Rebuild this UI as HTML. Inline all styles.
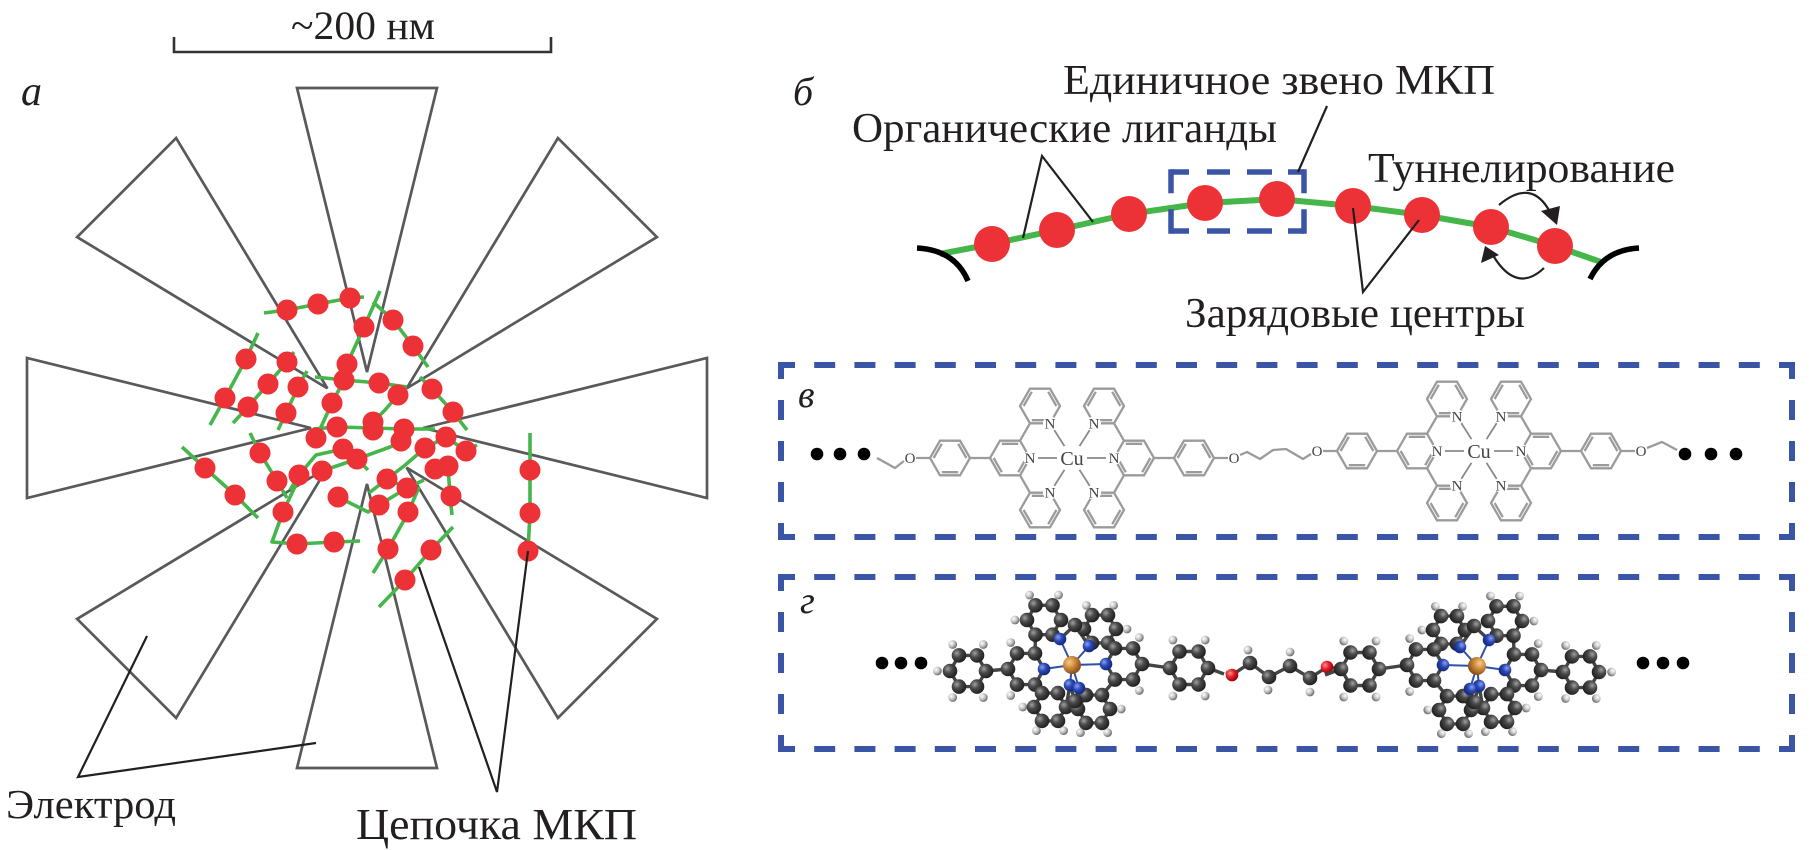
<!DOCTYPE html>
<html><head><meta charset="utf-8">
<style>
html,body{margin:0;padding:0;background:#fff;}
svg{display:block;}
text{font-family:"Liberation Serif","DejaVu Serif",serif;fill:#231f20;}
</style></head>
<body>
<svg width="1815" height="850" viewBox="0 0 1815 850" xmlns="http://www.w3.org/2000/svg">
<defs>
  <radialGradient id="gC" cx="35%" cy="35%" r="65%"><stop offset="0" stop-color="#a0a0a0"/><stop offset="0.45" stop-color="#4a4a4a"/><stop offset="1" stop-color="#222"/></radialGradient>
  <radialGradient id="gH" cx="35%" cy="35%" r="65%"><stop offset="0" stop-color="#fff"/><stop offset="0.55" stop-color="#c4c4c4"/><stop offset="1" stop-color="#707070"/></radialGradient>
  <radialGradient id="gN" cx="35%" cy="35%" r="65%"><stop offset="0" stop-color="#8aa0ee"/><stop offset="0.5" stop-color="#2a48b4"/><stop offset="1" stop-color="#152a80"/></radialGradient>
  <radialGradient id="gCu" cx="35%" cy="35%" r="65%"><stop offset="0" stop-color="#f8cc8a"/><stop offset="0.5" stop-color="#cc8a3c"/><stop offset="1" stop-color="#8a5218"/></radialGradient>
  <radialGradient id="gO" cx="35%" cy="35%" r="65%"><stop offset="0" stop-color="#ff9090"/><stop offset="0.5" stop-color="#e5202a"/><stop offset="1" stop-color="#a00010"/></radialGradient>

  <circle id="aC" r="7.3" fill="url(#gC)"/>
  <circle id="aH" r="4.4" fill="url(#gH)"/>
  <circle id="aN" r="6.3" fill="url(#gN)"/>
  <circle id="aO" r="6.3" fill="url(#gO)"/>

  <g id="rA">
    <polygon points="20,0 10,-17.32 -10,-17.32 -20,0 -10,17.32 10,17.32"/>
    <line x1="8.2" y1="-14.2" x2="-8.2" y2="-14.2"/>
    <line x1="-16.4" y1="0" x2="-8.2" y2="14.2"/>
    <line x1="8.2" y1="14.2" x2="16.4" y2="0"/>
  </g>
  <g id="rB">
    <polygon points="20,0 10,-17.32 -10,-17.32 -20,0 -10,17.32 10,17.32"/>
    <line x1="16.4" y1="0" x2="8.2" y2="-14.2"/>
    <line x1="-8.2" y1="-14.2" x2="-16.4" y2="0"/>
    <line x1="-8.2" y1="14.2" x2="8.2" y2="14.2"/>
  </g>
  <g id="lig" fill="none" stroke="#9b9b9b" stroke-width="2.3">
    <use href="#rA"/>
    <use href="#rB" x="30" y="-52"/>
    <use href="#rA" x="30" y="52"/>
    <use href="#rB" x="-60" y="0"/>
    <path d="M10,-17.32 L20,-34.64 M10,17.32 L20,34.64 M-20,0 H-40 M-80,0 H-94"/>
    <path d="M28,0 H47 M44.3,-27.9 L54.5,-11.8 M44.3,27.9 L54.5,11.8" stroke="#8a8a8a" stroke-width="1.8"/>
    <circle cx="20" cy="0" r="7" fill="#fff" stroke="none"/>
    <circle cx="40" cy="-34.64" r="7" fill="#fff" stroke="none"/>
    <circle cx="40" cy="34.64" r="7" fill="#fff" stroke="none"/>
  </g>

  <g id="cplx">
    <g fill="none" stroke="#444" stroke-width="3.4">
      <polygon points="-86,6 -95,-9.6 -113,-9.6 -122,6 -113,21.6 -95,21.6"/>
      <polygon points="-28,4 -37,-11.6 -55,-11.6 -64,4 -55,19.6 -37,19.6"/>
      <polygon points="-11,-45 -19.5,-59.7 -36.5,-59.7 -45,-45 -36.5,-30.3 -19.5,-30.3"/>
      <polygon points="44,-36 36,-49.9 20,-49.9 12,-36 20,-22.1 36,-22.1"/>
      <polygon points="70,-1 61,-16.6 43,-16.6 34,-1 43,14.6 61,14.6"/>
      <polygon points="136,3 126.5,-13.5 107.5,-13.5 98,3 107.5,19.5 126.5,19.5"/>
      <polygon points="-6,42 -14,28.1 -30,28.1 -38,42 -30,55.9 -14,55.9"/>
      <polygon points="38,44 30,30.1 14,30.1 6,44 14,57.9 30,57.9"/>
      <path d="M-86,6 L-64,4 M70,-1 L98,3 M136,3 L152,9 M-37,-11.6 L-36.5,-30.3 M43,-16.6 L36,-22.1 M-37,19.6 L-30,28.1 M43,14.6 L30,30.1 M-12,-26 L-19.5,-30.3 M17,-19 L20,-22.1 M-2,20 L-6,42 M7,23 L14,30.1 M3,-40 L-12,-26 M3,-40 L17,-19 M3,36 L-2,20 M3,36 L7,23"/>
      <path d="M0,0 L-12,-26 M0,0 L17,-19 M0,0 L-28,4 M0,0 L34,-1 M0,0 L-2,20 M0,0 L7,23" stroke="#3050a8" stroke-width="2"/>
    </g>
    <g>
      <use href="#aH" x="-88.7" y="-20.5"/><use href="#aH" x="-119.3" y="-20.5"/><use href="#aH" x="-134.6" y="6"/><use href="#aH" x="-119.3" y="32.5"/><use href="#aH" x="-88.7" y="32.5"/>
      <use href="#aH" x="-61.3" y="-22.5"/><use href="#aH" x="-61.3" y="30.5"/>
      <use href="#aH" x="-13.5" y="-70"/><use href="#aH" x="-42.5" y="-70"/><use href="#aH" x="-57" y="-45"/>
      <use href="#aH" x="55" y="-36"/><use href="#aH" x="41.6" y="-59.6"/><use href="#aH" x="14.4" y="-59.6"/>
      <use href="#aH" x="67.3" y="-27.5"/><use href="#aH" x="67.3" y="25.5"/>
      <use href="#aH" x="100.9" y="-25"/><use href="#aH" x="133.2" y="-25"/><use href="#aH" x="100.9" y="31"/><use href="#aH" x="133.2" y="31"/>
      <use href="#aH" x="-35.6" y="65.6"/><use href="#aH" x="-49.2" y="42"/><use href="#aH" x="-8.4" y="65.6"/>
      <use href="#aH" x="8.4" y="67.6"/><use href="#aH" x="35.6" y="67.6"/><use href="#aH" x="49.2" y="44"/>
    </g>
    <g>
      <use href="#aC" x="-86" y="6"/><use href="#aC" x="-95" y="-9.6"/><use href="#aC" x="-113" y="-9.6"/><use href="#aC" x="-122" y="6"/><use href="#aC" x="-113" y="21.6"/><use href="#aC" x="-95" y="21.6"/>
      <use href="#aC" x="-37" y="-11.6"/><use href="#aC" x="-55" y="-11.6"/><use href="#aC" x="-64" y="4"/><use href="#aC" x="-55" y="19.6"/><use href="#aC" x="-37" y="19.6"/>
      <use href="#aC" x="-11" y="-45"/><use href="#aC" x="-19.5" y="-59.7"/><use href="#aC" x="-36.5" y="-59.7"/><use href="#aC" x="-45" y="-45"/><use href="#aC" x="-36.5" y="-30.3"/><use href="#aC" x="-19.5" y="-30.3"/>
      <use href="#aC" x="44" y="-36"/><use href="#aC" x="36" y="-49.9"/><use href="#aC" x="20" y="-49.9"/><use href="#aC" x="12" y="-36"/><use href="#aC" x="20" y="-22.1"/><use href="#aC" x="36" y="-22.1"/>
      <use href="#aC" x="70" y="-1"/><use href="#aC" x="61" y="-16.6"/><use href="#aC" x="43" y="-16.6"/><use href="#aC" x="43" y="14.6"/><use href="#aC" x="61" y="14.6"/>
      <use href="#aC" x="136" y="3"/><use href="#aC" x="126.5" y="-13.5"/><use href="#aC" x="107.5" y="-13.5"/><use href="#aC" x="98" y="3"/><use href="#aC" x="107.5" y="19.5"/><use href="#aC" x="126.5" y="19.5"/>
      <use href="#aC" x="-6" y="42"/><use href="#aC" x="-14" y="28.1"/><use href="#aC" x="-30" y="28.1"/><use href="#aC" x="-38" y="42"/><use href="#aC" x="-30" y="55.9"/><use href="#aC" x="-14" y="55.9"/>
      <use href="#aC" x="38" y="44"/><use href="#aC" x="30" y="30.1"/><use href="#aC" x="14" y="30.1"/><use href="#aC" x="6" y="44"/><use href="#aC" x="14" y="57.9"/><use href="#aC" x="30" y="57.9"/>
      <use href="#aC" x="3" y="-40"/><use href="#aC" x="3" y="36"/>
    </g>
    <g>
      <use href="#aN" x="-12" y="-26"/><use href="#aN" x="17" y="-19"/><use href="#aN" x="-28" y="4"/><use href="#aN" x="34" y="-1"/><use href="#aN" x="-2" y="20"/><use href="#aN" x="7" y="23"/>
      <circle r="9" fill="url(#gCu)"/>
    </g>
  </g>
</defs>

<!-- ============ PANEL A ============ -->
<path d="M174,37 V52 H551 V37" fill="none" stroke="#333" stroke-width="2.6"/>
<text x="291" y="39" font-size="40" textLength="144" lengthAdjust="spacingAndGlyphs">~200 нм</text>
<text x="21" y="105" font-size="42" font-style="italic">а</text>

<g fill="none" stroke="#58595b" stroke-width="2.7" stroke-linejoin="miter">
  <polygon points="297,88 437,88 367,372"/>
  <polygon points="297,88 437,88 367,372" transform="rotate(45 367 428)"/>
  <polygon points="297,88 437,88 367,372" transform="rotate(90 367 428)"/>
  <polygon points="297,88 437,88 367,372" transform="rotate(135 367 428)"/>
  <polygon points="297,88 437,88 367,372" transform="rotate(180 367 428)"/>
  <polygon points="297,88 437,88 367,372" transform="rotate(225 367 428)"/>
  <polygon points="297,88 437,88 367,372" transform="rotate(270 367 428)"/>
  <polygon points="297,88 437,88 367,372" transform="rotate(315 367 428)"/>
</g>

<g fill="none" stroke="#45b649" stroke-width="3.6" stroke-linejoin="round" stroke-linecap="butt">
  <polyline points="264,313 287,310 318,304 350,298 364,297"/>
  <polyline points="380,291 364,327 347,364 344,380 332,403 316,438"/>
  <polyline points="373,302 393,320 413,346 428,367"/>
  <polyline points="258,333 246,359 225,398 210,425"/>
  <polyline points="294,352 287,362 268,384 248,407 233,423"/>
  <polyline points="307,371 298,387 286,413 278,430"/>
  <polyline points="315,377 344,380 379,383 407,387"/>
  <polyline points="420,377 432,389 453,412 467,430"/>
  <polyline points="398,395 385,410 373,422"/>
  <polyline points="313,429 337,427 373,428 404,429 435,429"/>
  <polyline points="250,433 260,453 277,481 287,498"/>
  <polyline points="182,447 205,468 235,495 258,518"/>
  <polyline points="322,471 357,459 390,447 404,440"/>
  <polyline points="420,440 425,448 446,437 466,451 477,445"/>
  <polyline points="369,493 387,479 407,488 424,480"/>
  <polyline points="387,479 404,466 425,448"/>
  <polyline points="448,466 450,496 452,515"/>
  <polyline points="290,490 299,475 316,455 343,449"/>
  <polyline points="299,478 283,512 272,542 297,544 334,542 360,541"/>
  <polyline points="373,573 388,549 408,513 419,487"/>
  <polyline points="379,607 405,580 431,550 453,527"/>
  <polyline points="530,433 530,470 530,513 528,551"/>
  <polyline points="338,497 368,512 379,505 407,488"/>
  <polyline points="343,449 357,459 368,470"/>
</g>

<g fill="#ec3137">
  <circle cx="287" cy="310" r="10.5"/><circle cx="318" cy="304" r="10.5"/><circle cx="350" cy="298" r="10.5"/>
  <circle cx="364" cy="327" r="10.5"/><circle cx="393" cy="320" r="10.5"/><circle cx="413" cy="346" r="10.5"/>
  <circle cx="246" cy="359" r="10.5"/><circle cx="287" cy="362" r="10.5"/><circle cx="347" cy="364" r="10.5"/>
  <circle cx="268" cy="384" r="10.5"/><circle cx="298" cy="387" r="10.5"/><circle cx="344" cy="380" r="10.5"/>
  <circle cx="379" cy="383" r="10.5"/><circle cx="398" cy="395" r="10.5"/><circle cx="432" cy="389" r="10.5"/>
  <circle cx="225" cy="398" r="10.5"/><circle cx="248" cy="407" r="10.5"/><circle cx="286" cy="413" r="10.5"/>
  <circle cx="332" cy="403" r="10.5"/><circle cx="453" cy="412" r="10.5"/><circle cx="337" cy="427" r="10.5"/>
  <circle cx="373" cy="422" r="10.5"/><circle cx="373" cy="430" r="10.5"/><circle cx="316" cy="438" r="10.5"/>
  <circle cx="404" cy="429" r="10.5"/><circle cx="401" cy="441" r="10.5"/><circle cx="446" cy="437" r="10.5"/>
  <circle cx="466" cy="451" r="10.5"/><circle cx="425" cy="448" r="10.5"/><circle cx="343" cy="449" r="10.5"/>
  <circle cx="357" cy="459" r="10.5"/><circle cx="260" cy="453" r="10.5"/><circle cx="205" cy="468" r="10.5"/>
  <circle cx="277" cy="481" r="10.5"/><circle cx="299" cy="475" r="10.5"/><circle cx="322" cy="471" r="10.5"/>
  <circle cx="435" cy="469" r="10.5"/><circle cx="448" cy="466" r="10.5"/><circle cx="387" cy="479" r="10.5"/>
  <circle cx="407" cy="488" r="10.5"/><circle cx="451" cy="496" r="10.5"/><circle cx="235" cy="495" r="10.5"/>
  <circle cx="338" cy="497" r="10.5"/><circle cx="379" cy="505" r="10.5"/><circle cx="408" cy="512" r="10.5"/>
  <circle cx="283" cy="512" r="10.5"/><circle cx="297" cy="544" r="10.5"/><circle cx="334" cy="542" r="10.5"/>
  <circle cx="388" cy="549" r="10.5"/><circle cx="431" cy="550" r="10.5"/><circle cx="405" cy="580" r="10.5"/>
  <circle cx="530" cy="470" r="10.5"/><circle cx="530" cy="513" r="10.5"/><circle cx="528" cy="551" r="10.5"/>
</g>

<g fill="none" stroke="#231f20" stroke-width="2.2">
  <polyline points="147,636 78,777 316,743"/>
  <polyline points="419,567 497,792 528,551"/>
</g>
<text x="6" y="818" font-size="41" textLength="170" lengthAdjust="spacingAndGlyphs">Электрод</text>
<text x="356" y="839" font-size="44" textLength="281" lengthAdjust="spacingAndGlyphs">Цепочка МКП</text>

<!-- ============ PANEL Б ============ -->
<text x="793" y="105" font-size="40" font-style="italic">б</text>
<text x="1063" y="94" font-size="42" textLength="432" lengthAdjust="spacingAndGlyphs">Единичное звено МКП</text>
<text x="852" y="142" font-size="42" textLength="425" lengthAdjust="spacingAndGlyphs">Органические лиганды</text>
<text x="1368" y="182" font-size="42" textLength="307" lengthAdjust="spacingAndGlyphs">Туннелирование</text>
<text x="1185" y="327" font-size="42" textLength="340" lengthAdjust="spacingAndGlyphs">Зарядовые центры</text>

<polyline points="940,254 992,244 1057,230 1129,214 1205,203 1277,199 1353,206 1422,215 1491,227 1555,246 1604,263" fill="none" stroke="#45b649" stroke-width="6" stroke-linejoin="round"/>
<g fill="none" stroke="#000" stroke-width="5.5" stroke-linecap="butt">
  <path d="M917,248 Q955,250 968,281"/>
  <path d="M1590,279 Q1604,250 1639,248"/>
</g>
<g fill="#ec3137">
  <circle cx="992" cy="244" r="18"/><circle cx="1057" cy="230" r="18"/><circle cx="1129" cy="214" r="18"/>
  <circle cx="1205" cy="203" r="18"/><circle cx="1277" cy="199" r="18"/><circle cx="1353" cy="206" r="18"/>
  <circle cx="1422" cy="215" r="18"/><circle cx="1491" cy="227" r="18"/><circle cx="1555" cy="246" r="18"/>
</g>
<g fill="none" stroke="#3a55a5" stroke-width="5.5">
  <path d="M1171,172 H1304" stroke-dasharray="18 18 23 17 25 16 16"/>
  <path d="M1171,231 H1304" stroke-dasharray="18 18 23 17 25 16 16"/>
  <path d="M1171,169.3 V233.7" stroke-dasharray="24 16 25"/>
  <path d="M1304,169.3 V233.7" stroke-dasharray="24 16 25"/>
</g>
<g fill="none" stroke="#231f20" stroke-width="2.2">
  <polyline points="1023,238 1042,156 1093,222"/>
  <line x1="1327" y1="106" x2="1298" y2="172"/>
  <polyline points="1353,208 1363,292 1419,220"/>
  <path d="M1499,205 Q1531.5,177.5 1550,212"/>
  <path d="M1544,268 Q1517,293.5 1494,257"/>
</g>
<polygon points="1541,211 1560,206 1557,225" fill="#231f20"/>
<polygon points="1485,246 1481,263 1499,255" fill="#231f20"/>

<!-- ============ PANEL В ============ -->
<g fill="none" stroke="#3a55a5" stroke-width="6">
  <path d="M778,365 H1795" stroke-dasharray="21 19.2" stroke-dashoffset="4"/>
  <path d="M778,537 H1795" stroke-dasharray="21 19.2" stroke-dashoffset="4"/>
  <path d="M781,362 V540" stroke-dasharray="20 21" stroke-dashoffset="3"/>
  <path d="M1792,362 V540" stroke-dasharray="20 21" stroke-dashoffset="3"/>
</g>
<text x="798" y="407" font-size="38" font-style="italic">в</text>

<use href="#lig" x="1010" y="458"/>
<g transform="translate(1134,458) scale(-1,1)"><use href="#lig"/></g>
<use href="#lig" x="1417" y="451"/>
<g transform="translate(1541,451) scale(-1,1)"><use href="#lig"/></g>
<g fill="none" stroke="#9b9b9b" stroke-width="2.3" stroke-linejoin="round">
  <polyline points="877,458 895,468 904,461"/>
  <polyline points="1240,455 1247,452 1260,459 1273,450 1286,449 1303,459 1311,454"/>
  <polyline points="1647,448 1662,442 1677,450"/>
</g>
<g fill="#000">
  <circle cx="817" cy="454" r="6.3"/><circle cx="840" cy="454" r="6.3"/><circle cx="864" cy="454" r="6.3"/>
  <circle cx="1685" cy="454" r="6.3"/><circle cx="1711" cy="454" r="6.3"/><circle cx="1736" cy="454" r="6.3"/>
</g>
<g font-size="15" text-anchor="middle">
  <text x="1030" y="463" style="fill:#444">N</text><text x="1050" y="428.4" style="fill:#444">N</text><text x="1050" y="497.6" style="fill:#444">N</text>
  <text x="1114" y="463" style="fill:#444">N</text><text x="1094" y="428.4" style="fill:#444">N</text><text x="1094" y="497.6" style="fill:#444">N</text>
  <text x="1437" y="456" style="fill:#444">N</text><text x="1457" y="421.4" style="fill:#444">N</text><text x="1457" y="490.6" style="fill:#444">N</text>
  <text x="1521" y="456" style="fill:#444">N</text><text x="1501" y="421.4" style="fill:#444">N</text><text x="1501" y="490.6" style="fill:#444">N</text>
  <text x="910" y="463" style="fill:#444">O</text><text x="1234" y="463" style="fill:#444">O</text>
  <text x="1317" y="456" style="fill:#444">O</text><text x="1641" y="456" style="fill:#444">O</text>
</g>
<g font-size="20" text-anchor="middle">
  <text x="1072" y="465" style="fill:#444">Cu</text>
  <text x="1479" y="458" style="fill:#444">Cu</text>
</g>

<!-- ============ PANEL Г ============ -->
<g fill="none" stroke="#3a55a5" stroke-width="6">
  <path d="M778,577 H1795" stroke-dasharray="21 19.2" stroke-dashoffset="4"/>
  <path d="M778,749 H1795" stroke-dasharray="21 19.2" stroke-dashoffset="4"/>
  <path d="M781,574 V752" stroke-dasharray="20 21" stroke-dashoffset="3"/>
  <path d="M1792,574 V752" stroke-dasharray="20 21" stroke-dashoffset="3"/>
</g>
<text x="800" y="613" font-size="38" font-style="italic">г</text>

<g fill="#000">
  <circle cx="882" cy="663" r="6.3"/><circle cx="901" cy="663" r="6.3"/><circle cx="921" cy="663" r="6.3"/>
  <circle cx="1643" cy="663" r="6.3"/><circle cx="1663" cy="663" r="6.3"/><circle cx="1683" cy="663" r="6.3"/>
</g>
<g fill="none" stroke="#444" stroke-width="3.4">
  <polyline points="1226,672 1232,675 1250,663 1269,677 1290,666 1310,678 1327,667 1341,669"/>
</g>
<use href="#aH" x="1248" y="650"/><use href="#aH" x="1268" y="690"/><use href="#aH" x="1290" y="652"/><use href="#aH" x="1310" y="692"/>
<use href="#aC" x="1250" y="663"/><use href="#aC" x="1269" y="677"/><use href="#aC" x="1290" y="666"/><use href="#aC" x="1310" y="678"/>
<use href="#aO" x="1232" y="675"/><use href="#aO" x="1327" y="667"/>

<g transform="translate(1072,665)"><use href="#cplx"/></g>
<g transform="translate(1477,666) scale(-1,1)"><use href="#cplx"/></g>
</svg>
</body></html>
